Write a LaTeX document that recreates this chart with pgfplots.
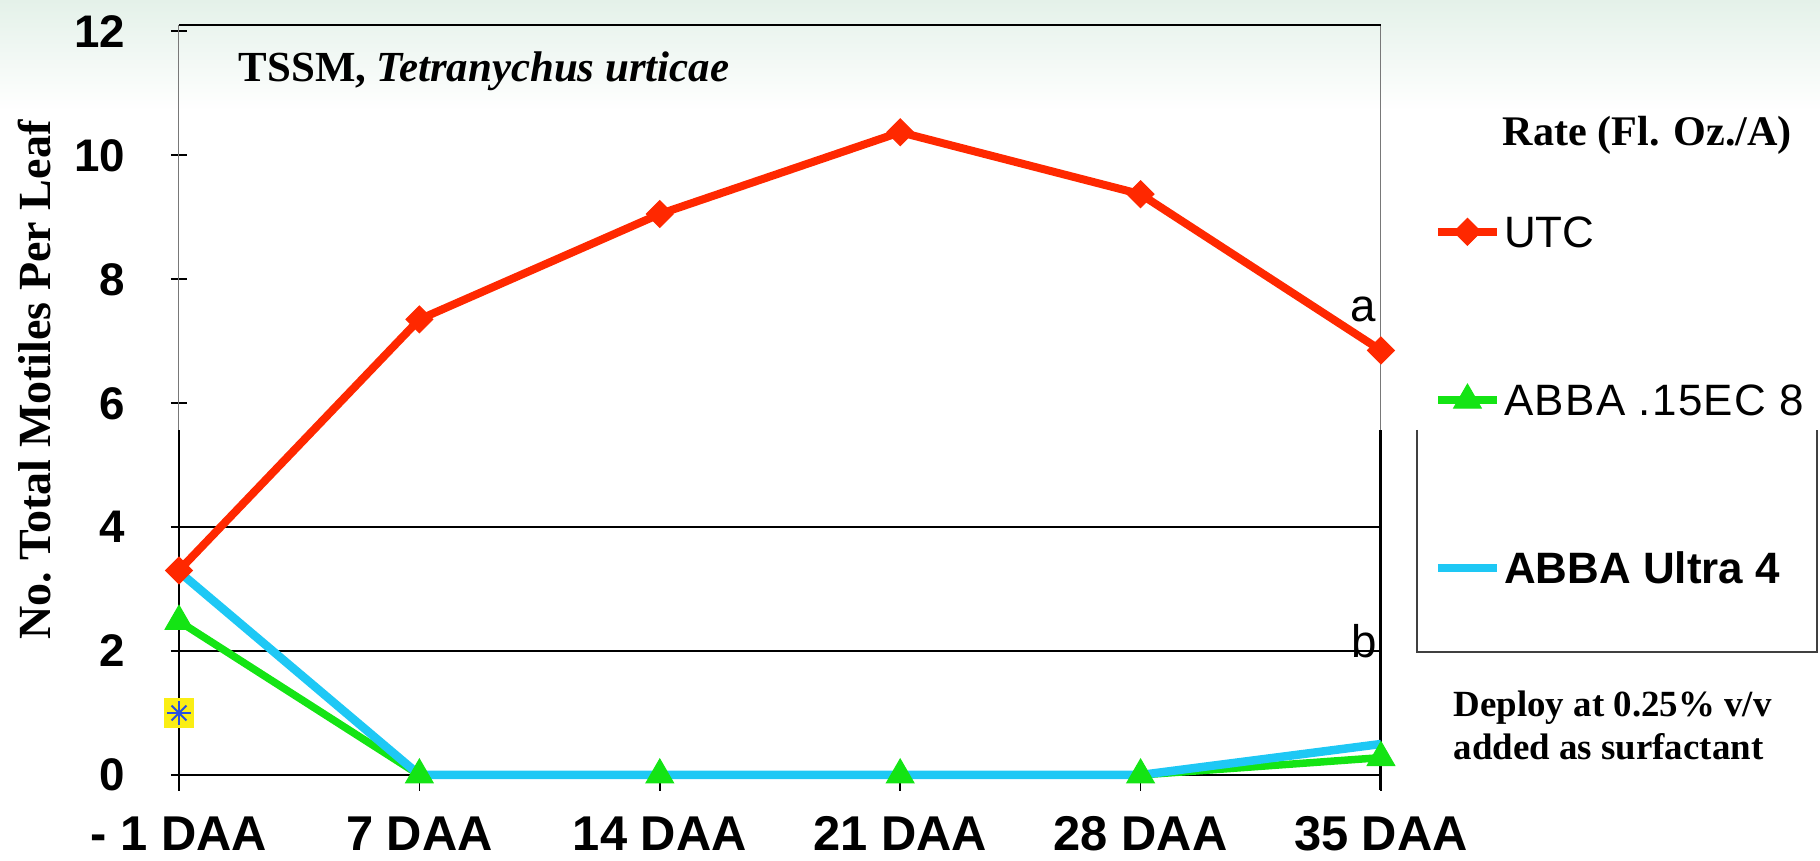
\documentclass[border=0pt]{standalone}
\usepackage{fontspec}
\setmainfont{Liberation Serif}
\newfontfamily\arial{Liberation Sans}
\newfontfamily\arialsp[LetterSpace=3]{Liberation Sans}
\usepackage{pgfplots}
\pgfplotsset{compat=1.18}
\definecolor{utcred}{RGB}{255,40,0}
\definecolor{abbagreen}{RGB}{20,228,20}
\definecolor{abbacyan}{RGB}{30,200,245}
\definecolor{mint}{RGB}{228,241,233}
\definecolor{framegray}{RGB}{120,120,120}
\definecolor{marky}{RGB}{250,238,20}
\definecolor{markb}{RGB}{40,80,225}
\begin{document}
\begin{tikzpicture}
\useasboundingbox (0,0) rectangle (182mm,86.1mm);
\shade[top color=mint, bottom color=white] (0,86.1mm) rectangle (182mm,75mm);
\begin{axis}[
  at={(17.9mm,8.6mm)}, anchor=south west,
  scale only axis, width=120.2mm, height=75mm,
  xmin=0, xmax=5, ymin=0, ymax=12.1,
  clip=false,
  axis line style={draw=none},
  xtick={0,...,5},
  xticklabels={- 1 DAA, 7 DAA, 14 DAA, 21 DAA, 28 DAA, 35 DAA},
  ytick={0,2,...,12},
  tickpos=left,
  xtick align=outside, ytick align=center,
  major tick length=1.6mm,
  tick style={black, line width=0.15mm},
  /pgf/number format/assume math mode=true,
  xticklabel style={font=\arial\bfseries\fontsize{13.9}{15}\selectfont, anchor=north, inner sep=0pt, text depth=0pt, yshift=-2.5mm},
  yticklabel style={font=\arial\bfseries\fontsize{13}{14}\selectfont, anchor=east, inner sep=0pt, text depth=0pt, xshift=-4.5mm},
  ylabel={No.\ Total Motiles Per Leaf},
  ylabel style={font=\bfseries\fontsize{13.1}{14}\selectfont, at={(axis description cs:-0.1198,0.5267)}, anchor=center},
  legend style={at={(axis description cs:1.0433,0.5)}, anchor=west, draw=none, fill=none, inner sep=0pt,
    row sep=13.65mm, column sep=0.3mm, font=\fontsize{12.5}{13}\selectfont,
    nodes={inner sep=0pt, text height=3.15mm, text depth=0pt}},
  legend cell align=left,
  legend image code/.code={\draw[mark repeat=2,mark phase=2,#1] plot coordinates {(0mm,0mm) (2.95mm,0mm) (5.9mm,0mm)};},
]
% frame and grid pieces
\draw[black, line width=0.15mm] (axis cs:0,2) -- (axis cs:5,2);
\draw[black, line width=0.15mm] (axis cs:0,4) -- (axis cs:5,4);
\draw[black, line width=0.25mm] (axis cs:0,0) -- (axis cs:5,0);
\draw[framegray, line width=0.1mm] (axis cs:0,5.56) -- (axis cs:0,12.1);
\draw[framegray, line width=0.1mm] (axis cs:5,5.56) -- (axis cs:5,12.1);
\draw[black, line width=0.25mm] (axis cs:0,12.1) -- (axis cs:5,12.1);
\draw[black, line width=0.2mm] (axis cs:0,-0.24) -- (axis cs:0,5.56);
\draw[black, line width=0.3mm] (axis cs:5,-0.24) -- (axis cs:5,5.56);

\addplot[utcred, line width=0.8mm, mark=square*, mark size=0.95mm, mark options={rotate=45, solid, line width=0.1mm}]
  coordinates {(0,3.3)(1,7.35)(2,9.05)(3,10.37)(4,9.37)(5,6.85)};
\addlegendentry{\arial UTC}
\addplot[abbagreen, line width=0.75mm, mark=triangle*, mark size=1.6mm, mark options={solid, line width=0.1mm}]
  coordinates {(0,2.48)(1,0)(2,0)(3,0)(4,0)(5,0.28)};
\addlegendentry{\arialsp ABBA .15EC 8}
\addplot[abbacyan, line width=0.85mm]
  coordinates {(0,3.28)(1,0)(2,0)(3,0)(4,0)(5,0.5)};
\addlegendentry{\arial\bfseries ABBA Ultra 4}

\addplot[forget plot, only marks, mark=square*, mark size=1.4mm, color=marky] coordinates {(0,1)};
\addplot[forget plot, only marks, mark=+, mark size=1.2mm, color=markb, line width=0.2mm] coordinates {(0,1)};
\addplot[forget plot, only marks, mark=x, mark size=1.05mm, color=markb, line width=0.2mm] coordinates {(0,1)};

\node[anchor=base west, inner sep=0pt, font=\bfseries\fontsize{12.2}{13}\selectfont] at (axis description cs:0.0491,0.924) {TSSM, \textit{Tetranychus urticae}};
\node[anchor=base east, inner sep=0pt, xshift=-0.4mm, font=\arial\fontsize{13}{14}\selectfont] at (axis cs:5,7.31) {a};
\node[anchor=base east, inner sep=0pt, xshift=-0.3mm, font=\arial\fontsize{13}{14}\selectfont] at (axis cs:5,1.89) {b};
\end{axis}
\draw[black!75, line width=0.15mm] (141.7mm,43.1mm) -- (141.7mm,20.9mm) -- (181.7mm,20.9mm) -- (181.7mm,43.1mm);
\node[anchor=base west, inner sep=0pt, font=\bfseries\fontsize{12}{13}\selectfont] at (150.2mm,71.5mm) {Rate (Fl. Oz./A)};
\node[anchor=base west, inner sep=0pt, font=\bfseries\fontsize{10.5}{12}\selectfont] at (145.3mm,14.4mm) {Deploy at 0.25\% v/v};
\node[anchor=base west, inner sep=0pt, font=\bfseries\fontsize{10.5}{12}\selectfont] at (145.3mm,10.1mm) {added as surfactant};
\end{tikzpicture}
\end{document}
